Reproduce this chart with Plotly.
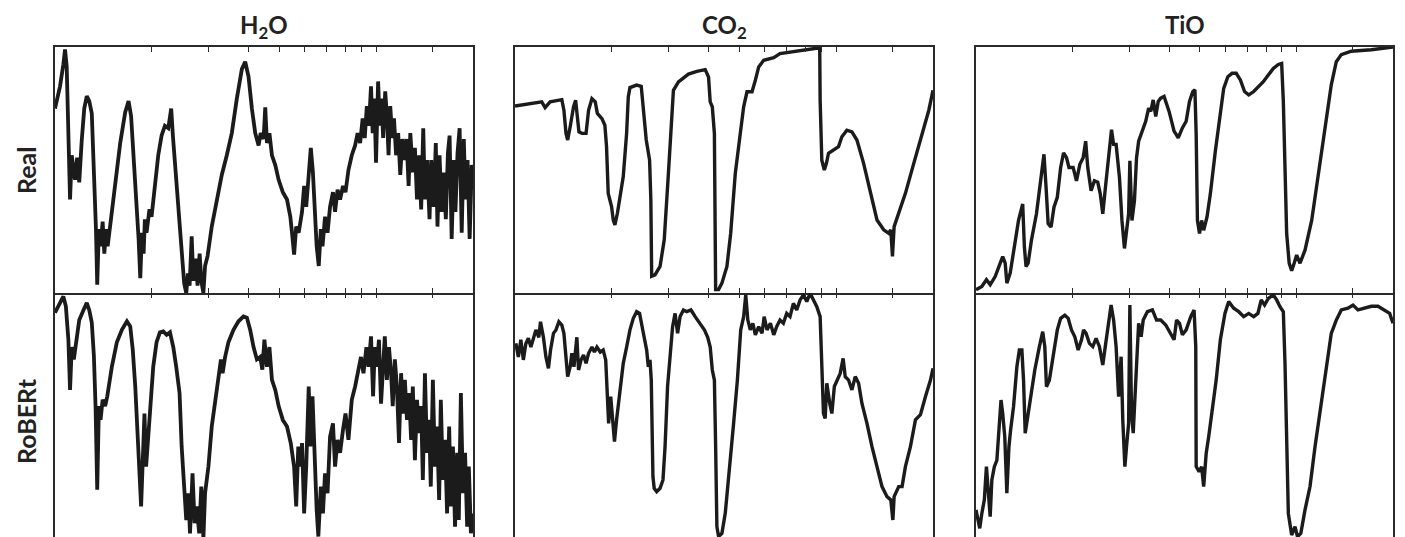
import plotly.graph_objects as go

# ---------------- data (x: % of spectral axis, y: normalised flux %) ----------------
columns = ["H<sub>2</sub>O", "CO<sub>2</sub>", "TiO"]
rows = ["Real", "RoBERt"]
tick_positions = [23.1, 36.7, 46.3, 53.7, 59.8, 65.0, 69.6, 73.3, 76.9, 90.4]

h2o_real = [(0,75),(1.2,84),(2.0,93),(2.4,99),(2.8,92),(3.2,62),(3.6,38),(4.0,56),(4.8,46),(5.3,55),(5.8,45),(6.4,62),(7.0,75),(7.6,80),(8.2,78),(8.8,73),(9.3,52),(9.8,26),(10.1,3.4),(10.5,26),(10.9,19),(11.4,29),(11.8,16),(12.2,26),(12.6,19),(13.2,27),(14.4,43.5),(15.6,61),(16.8,73.5),(17.6,78),(18.2,72),(18.8,56),(19.4,35),(20.0,22),(20.4,6),(20.8,24.5),(21.2,16),(21.5,30),(21.9,24.5),(22.6,34),(23.1,31),(23.9,43.5),(24.7,56),(25.5,64),(26.3,68),(27.1,67),(27.8,75),(28.2,64),(28.7,52),(29.5,33),(30.3,16),(30.9,4),(31.4,0),(31.8,8),(32.2,3),(32.7,23),(33.1,5),(33.7,14),(34.1,3),(34.6,16),(35.0,5),(35.5,0),(35.9,11),(36.5,15),(37.5,27),(38.7,38),(39.9,48),(41.1,56),(42.3,65),(43.5,79),(44.7,91),(45.5,94),(46.3,88),(47.1,75),(47.9,65),(48.7,60),(49.2,65),(49.9,62.6),(50.3,75.5),(50.7,61),(51.3,65),(51.9,56),(52.7,52),(53.5,46),(54.5,41),(55.5,38),(56.3,31),(56.7,24.5),(57.2,15.6),(57.7,27),(58.3,24.5),(59.1,33),(59.6,43.5),(60.1,35),(60.7,49),(61.2,59),(61.7,49),(62.2,33),(62.6,19),(63.1,11),(63.6,26),(64.0,19),(64.6,31),(65.2,24.5),(65.8,35),(66.5,41),(67.0,33),(67.6,42),(68.2,38),(68.9,43.5),(69.5,41),(70.2,50),(71.0,56),(71.8,60),(72.4,65),(73.0,61),(73.6,71),(74.1,63),(74.6,76),(75.1,68),(75.6,84),(76.0,65),(76.4,79),(76.8,53),(77.3,86),(77.7,68),(78.1,79),(78.5,63),(79.0,82),(79.4,72),(79.8,56),(80.2,76),(80.7,63),(81.1,71),(81.6,56),(82.1,65),(82.6,48),(83.1,62.6),(83.6,54),(84.1,62.6),(84.6,43.5),(85.0,65),(85.6,49),(86.1,59),(86.6,38),(87.1,56),(87.6,34),(88.1,67),(88.5,38),(89.0,54),(89.6,30),(90.0,54),(90.6,35),(91.1,61),(91.5,27),(92.0,56),(92.5,33),(93.0,49),(93.5,30),(94.0,57),(94.4,64),(94.9,22),(95.4,54),(95.8,33),(96.3,57),(96.8,67),(97.3,24.5),(97.8,62.6),(98.2,38),(98.7,54),(99.2,22),(99.7,52),(100,49)]

h2o_robert = [(0,92),(0.8,95),(2.0,98.6),(2.6,94.6),(3.2,81),(3.6,60.6),(4.0,78),(4.5,73),(5.2,81),(5.8,89),(6.8,93),(7.6,96),(8.2,93),(8.8,88),(9.3,74.6),(9.7,54),(10.1,20),(10.5,54),(10.9,48.4),(11.4,56.6),(12.0,54),(12.5,58),(13.6,70),(14.8,80),(16.0,85),(17.2,88.5),(18.0,86.4),(18.6,77),(19.2,62),(19.7,44.4),(20.2,28),(20.6,13.2),(21.0,32),(21.4,51),(21.8,29.4),(22.3,40.3),(22.9,54),(23.5,70),(24.3,80),(25.1,84),(25.9,84.4),(26.7,83),(27.5,84),(28.3,78),(29.0,70),(29.8,59.3),(30.3,37.6),(30.9,18.6),(31.4,7.7),(31.9,18.6),(32.3,2.3),(32.9,26.7),(33.4,6.4),(33.9,13.2),(34.5,2.3),(35.0,21.3),(35.5,0),(35.9,18.6),(36.7,29.4),(37.5,45.7),(38.3,56.6),(39.1,64.7),(39.7,73),(40.1,67.4),(40.7,74),(41.5,80),(42.7,85),(43.9,88.5),(45.1,90.5),(45.9,90),(46.7,85),(47.5,78),(48.3,73),(49.1,74),(49.6,68.8),(50.1,81),(50.7,70),(51.3,78),(51.9,64.7),(52.7,60.6),(53.5,54),(54.5,48.4),(55.5,45.7),(56.4,39),(57.2,29.4),(57.7,13.2),(58.2,37.6),(58.7,29.4),(59.1,39),(59.6,10.4),(60.1,29.4),(60.7,62),(61.1,37.6),(61.6,58),(62.1,29.4),(62.6,11.8),(63.0,1),(63.6,21.3),(64.1,10.4),(64.6,26.7),(65.2,18.6),(65.8,41.6),(66.5,47),(67.0,29.4),(67.6,40.3),(68.2,35),(68.9,44.4),(69.5,51),(70.2,40.3),(71.0,56.6),(71.8,62),(72.6,70),(73.2,74),(73.8,67.4),(74.5,78),(75.0,70),(75.6,82.4),(76.1,58),(76.5,78),(77.0,70),(77.5,81),(78.0,55),(78.5,74),(78.9,82.4),(79.4,64.7),(79.9,78),(80.4,67.4),(80.8,54),(81.3,73),(81.8,62),(82.3,39),(82.8,67.4),(83.2,51),(83.7,64.7),(84.2,48.4),(84.7,59.3),(85.2,40.3),(85.6,62),(86.1,32),(86.6,56.6),(87.1,43),(87.6,54),(88.0,24),(88.5,67.4),(89.0,35),(89.5,48.4),(89.9,21.3),(90.4,64.7),(90.9,29.4),(91.4,45.7),(91.9,15.9),(92.3,56.6),(92.8,24),(93.3,40.3),(93.8,10.4),(94.3,45.7),(94.7,13.2),(95.2,37.6),(95.7,5),(96.2,35),(96.6,7.7),(97.1,59.3),(97.6,18.6),(98.1,35),(98.6,5),(99.0,29.4),(99.5,2.3),(100,10.4)]

co2_real = [(0,76),(3.6,76.8),(6.4,77.7),(7.2,75.4),(8.4,77.7),(11.2,78.6),(11.7,74.3),(12.2,64.9),(12.6,62.2),(13.2,67.6),(14.0,75.7),(14.5,78.4),(14.9,73),(15.3,65.5),(16.0,64.9),(17.0,64.9),(17.6,74.3),(18.4,79),(19.2,77.7),(19.7,73),(20.8,70.9),(21.5,68.2),(21.9,59.5),(22.3,40.5),(22.7,37.8),(23.1,35.1),(23.5,29.7),(23.9,27.7),(24.5,32.4),(25.1,39.2),(25.9,47.3),(26.7,64.9),(27.1,79.7),(27.5,83.5),(29.1,84.5),(30.2,84),(30.7,74.3),(31.4,62.2),(32.2,54),(32.5,37.8),(32.7,6.8),(33.5,7.4),(34.7,10.8),(35.7,21.6),(36.7,48.6),(37.3,68.9),(37.9,82.4),(39.1,85.8),(40.3,87.2),(41.5,89),(43.5,90.1),(45.5,90.8),(46.3,87.8),(46.7,77.7),(47.2,75.7),(47.7,64.9),(48.0,1.4),(48.7,1.4),(49.5,4),(50.7,10.8),(51.6,24.3),(52.7,48.6),(53.9,64.9),(54.7,75.7),(55.5,81.8),(56.7,81.8),(57.5,86.5),(58.3,91.9),(59.5,94.6),(61.9,95.7),(63.4,97.3),(67.4,98.2),(71.4,99.3),(72.9,99.7),(73.0,78.4),(73.4,54),(74.0,50),(74.5,52.7),(75.0,56.8),(76.2,58.1),(77.4,59.5),(78.2,63.5),(79.4,66.2),(80.6,65.5),(81.8,62.2),(83.4,52.7),(85.0,40.5),(86.6,29.7),(88.2,25.7),(89.4,24.3),(89.9,25.7),(90.3,14.9),(90.7,27),(91.8,32.4),(93.4,40.5),(95.4,52.7),(97.4,64.9),(99.0,74.3),(100,82.4)]

co2_robert = [(0.2,79.5),(0.8,74),(1.4,81),(2.0,72.8),(2.6,79.5),(3.2,81.6),(3.8,78),(4.4,81),(5.0,85),(5.7,82),(6.1,88.3),(6.8,82),(7.4,74),(8.0,69.4),(8.5,76.8),(9.2,83.6),(9.8,85),(10.5,88.3),(11.2,87),(11.7,83.6),(12.2,72.8),(12.6,66),(13.2,70),(13.6,75.5),(14.1,70),(14.8,82),(15.2,68.7),(15.8,72.8),(16.4,74.8),(17.0,71.4),(17.6,75.5),(18.4,78),(19.0,76),(19.6,78),(20.4,76),(21.1,76.8),(21.7,72.8),(22.1,57.9),(22.4,47),(22.9,57.9),(23.4,45.7),(23.8,39.6),(24.3,48.4),(25.1,60.6),(25.9,71.4),(26.7,78),(27.5,85),(28.3,89.7),(29.1,92.4),(29.8,91.7),(30.3,86.3),(30.9,82),(31.5,76.8),(31.9,70),(32.3,72.8),(32.6,64.6),(33.0,25.3),(33.3,20.6),(33.9,19.2),(34.7,20.6),(35.4,24),(35.9,37.5),(36.5,62),(37.1,75.5),(37.7,86.3),(38.3,91.7),(38.9,83.6),(39.5,90.4),(40.3,93.1),(41.1,92.4),(42.1,93.1),(43.1,90.4),(44.3,87.7),(45.3,85),(46.1,82),(46.7,78),(47.2,68.7),(47.7,64.6),(48.0,37.5),(48.3,5),(48.7,1),(49.5,2.3),(50.3,10.4),(51.1,26.7),(52.3,47),(53.2,64.6),(54.0,85),(54.7,90.4),(55.2,99.2),(55.7,89),(56.3,85),(56.9,87.7),(57.5,83),(58.3,86.3),(59.1,83.6),(59.6,90.4),(60.3,85),(61.1,87.7),(61.9,83),(62.6,86.3),(63.4,89),(64.2,87.7),(65.0,91.7),(65.8,90.4),(66.6,95.8),(67.4,93.1),(68.2,97.2),(69.0,99.2),(69.8,96.5),(70.6,99.9),(71.4,97.2),(72.2,94.4),(73.0,90.4),(73.4,71.4),(73.8,51),(74.2,49),(74.6,63.3),(75.3,55.1),(75.8,51),(76.4,62),(77.0,64.6),(77.8,67.3),(78.5,73.4),(79.0,66),(79.8,64.6),(80.6,60.6),(81.4,66),(82.2,63.3),(83.0,55.1),(84.2,47),(85.4,37.5),(86.6,29.4),(87.8,21.3),(89.0,17.2),(89.9,15.9),(90.4,7.7),(90.7,17.2),(91.8,21.3),(92.6,21.3),(93.4,29.4),(94.6,37.5),(95.8,48.4),(97.0,50.5),(98.2,57.9),(99.4,64.6),(100,69.4)]

tio_real = [(0,1.3),(1.4,2.7),(2.5,5.4),(3.4,3.4),(4.6,6.7),(5.8,12.1),(6.4,14.8),(7.0,12.1),(7.4,4.0),(8.2,8.1),(9.0,16.1),(10.2,29.5),(11.2,36.2),(11.6,18.8),(12.0,10.7),(12.5,12.1),(13.3,21.5),(14.5,32.2),(15.3,43),(16.3,56.4),(16.8,43),(17.3,28.2),(18.0,26.8),(18.7,34.9),(19.5,38.9),(20.3,51),(21.0,57),(21.7,55),(22.3,51),(23.3,51),(24.1,45.6),(24.9,52.3),(25.7,55),(26.3,61.7),(26.8,51),(27.6,41.6),(28.4,45.6),(29.2,45),(29.8,40.3),(30.4,32.2),(31.2,45.6),(32.0,60.4),(32.5,66.4),(33.0,60.4),(33.6,60.4),(34.4,47),(35.0,29.5),(35.6,18.1),(36.1,24.2),(36.6,32.2),(36.9,53.7),(37.4,29.5),(38.0,37.6),(38.5,55),(39.0,61.7),(39.6,64.4),(40.1,67.1),(40.7,69.8),(41.4,75.2),(41.9,73.8),(42.5,78.5),(43.1,71.8),(43.7,77.9),(44.3,79.2),(45.1,79.9),(46.3,73.8),(47.5,65.8),(48.5,63.1),(49.5,67.1),(50.4,69.8),(51.2,77.9),(52.0,81.9),(52.5,82.6),(52.8,64.4),(53.1,29.5),(53.6,24.2),(54.1,29.5),(54.6,25.5),(55.4,30.9),(56.2,40.3),(57.4,57.7),(58.6,73.8),(59.4,83.2),(60.4,87.9),(61.4,89.3),(62.4,89.3),(63.4,86.6),(64.4,81.9),(65.4,80.5),(66.6,81.9),(67.8,83.9),(68.9,85.9),(70.1,88.6),(71.3,91.3),(72.5,92.9),(73.3,93.3),(73.7,77.9),(74.1,51),(74.5,24.2),(75.1,12.1),(75.7,9.1),(76.3,12.1),(76.9,15.4),(77.7,12.1),(78.9,17.4),(80.5,29.5),(82.0,47),(83.6,64.4),(85.2,84.6),(86.4,94),(87.6,96.9),(90.0,98.3),(94.8,98.9),(100,100)]

tio_robert = [(0,11.8),(0.4,7.7),(0.9,4.3),(1.4,10.4),(2.0,15.9),(2.5,29.4),(2.9,18.6),(3.4,9.1),(3.8,24),(4.4,29.4),(5.0,32),(5.5,43),(6.0,56.5),(6.4,51),(6.9,41.6),(7.4,18.6),(7.9,37.5),(8.3,44.3),(9.0,53.8),(9.8,70),(10.4,76.8),(11.0,76.8),(11.4,64.6),(11.8,43),(12.3,48.4),(13.1,59.2),(14.1,68.7),(15.2,78.2),(16.0,84.3),(16.5,78.2),(16.9,61.9),(17.6,64.6),(18.5,74.1),(19.5,85),(20.3,89.7),(21.3,91),(22.1,89.7),(22.9,85),(23.7,82.2),(24.5,76.8),(25.3,81),(25.8,85),(26.4,83.6),(27.2,79.5),(28.0,78.2),(28.8,81.6),(29.6,78.2),(30.4,70.7),(31.1,79.5),(31.9,90.4),(32.4,95.1),(33.0,89),(33.6,78.2),(34.2,57.9),(34.8,74.1),(35.2,48.4),(35.7,29.4),(36.1,37.5),(36.6,47),(36.9,95.1),(37.3,51),(37.7,43),(38.4,70),(39.0,87.7),(39.6,82.2),(40.1,89),(41.1,92.4),(42.3,93.1),(43.3,89),(44.3,89),(45.5,87),(46.7,83.6),(47.5,81),(48.1,89),(48.8,87.7),(49.5,83),(50.4,85),(51.5,90.4),(52.3,93.1),(52.7,78.2),(52.8,29.4),(53.5,27.4),(54.1,29.4),(54.6,21.3),(55.2,34.8),(55.8,41.6),(56.6,51),(57.6,64.6),(58.6,81),(59.7,91.7),(60.6,96.5),(61.8,93.8),(63.0,92.4),(64.2,90.4),(65.4,91.7),(66.6,90.4),(67.6,91.7),(68.4,97.2),(69.2,95.1),(70.1,97.8),(71.3,99.2),(72.1,97.2),(72.9,94.4),(73.7,92.4),(74.1,71.4),(74.5,37.5),(74.9,10.4),(75.7,1.6),(76.5,5),(77.1,0.9),(77.9,2.3),(78.9,11.8),(80.1,21.3),(81.3,37.5),(82.8,55.1),(84.0,71.4),(85.2,83.6),(86.4,89),(87.6,93.1),(89.2,93.8),(90.4,95.1),(91.6,93.1),(93.2,93.8),(94.8,94.6),(96.4,94.6),(98.0,93.1),(99.2,91.7),(100,87.7)]

spectra = [[h2o_real, co2_real, tio_real], [h2o_robert, co2_robert, tio_robert]]

# ---------------- layout ----------------
VIEW_W, VIEW_H = 1405, 537
OFF = 8                      # default page margin around the plot div
W, H = VIEW_W - OFF, VIEW_H - OFF
col_px = [(55, 473), (515, 933), (976, 1393)]   # panel edges in the window
TOP_PX, MID_PX = 47, 293


def px_x(v):
    return (v - OFF) / W


def px_y(v):
    return (VIEW_H - v) / H


top_dom = [px_y(MID_PX), px_y(TOP_PX)]
bot_dom = [0, px_y(MID_PX)]
LINE = "#1b1b1b"
AX = "#2a2a2a"
FONT = "Lato"

fig = go.Figure()
layout = dict(width=W, height=H, margin=dict(l=0, r=0, t=0, b=0),
              paper_bgcolor="white", plot_bgcolor="white", showlegend=False)

n = 0
for r in range(2):
    for c in range(3):
        n += 1
        xs, ys = zip(*spectra[r][c])
        line_w = 3.8 if c == 0 else 3.4
        fig.add_trace(go.Scatter(x=list(xs), y=list(ys), mode="lines",
                                 line=dict(color=LINE, width=line_w),
                                 xaxis=f"x{n}", yaxis=f"y{n}", hoverinfo="skip"))
        xd = [px_x(col_px[c][0]), px_x(col_px[c][1])]
        xa = dict(domain=xd, range=[0, 100], anchor=f"y{n}", showgrid=False, zeroline=False,
                  linecolor=AX, linewidth=1.5, ticks="inside", ticklen=5,
                  tickwidth=1.2, tickcolor=AX, tickvals=tick_positions, showticklabels=False)
        if r == 0:
            xa.update(side="bottom", showline=True, mirror="ticks")
            ya = dict(domain=top_dom, range=[0, 100])
        else:
            xa.update(side="top", showline=False)
            ya = dict(domain=bot_dom, range=[0.8, 100])
        ya.update(anchor=f"x{n}", showgrid=False, zeroline=False, showline=True, mirror=True,
                  linecolor=AX, linewidth=1.5, ticks="", showticklabels=False)
        layout[f"xaxis{n if n > 1 else ''}"] = xa
        layout[f"yaxis{n if n > 1 else ''}"] = ya

ann = []
for c, name in enumerate(columns):
    cx = px_x((col_px[c][0] + col_px[c][1]) / 2)
    ann.append(dict(text=f"<b>{name}</b>", x=cx, y=1.0, xref="paper", yref="paper",
                    showarrow=False, xanchor="center", yanchor="top",
                    font=dict(family=FONT, size=24, color="#222")))
for r, (name, ypx) in enumerate(zip(rows, [170, 421])):
    ann.append(dict(text=f"<b>{name}</b>", x=px_x(26), y=px_y(ypx), xref="paper", yref="paper",
                    showarrow=False, xanchor="center", yanchor="middle", textangle=-90,
                    font=dict(family=FONT, size=25, color="#222")))
layout["annotations"] = ann
fig.update_layout(**layout)
fig.write_html("out.html")
